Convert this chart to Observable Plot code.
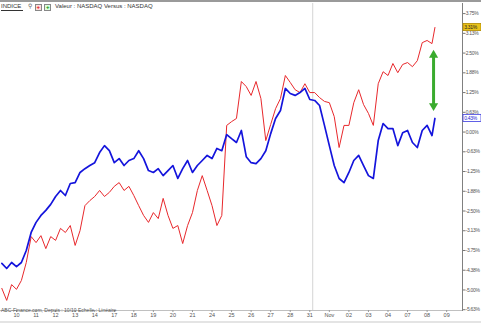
<!DOCTYPE html>
<html><head><meta charset="utf-8">
<script src="https://cdn.jsdelivr.net/npm/d3@7"></script>
<script src="https://cdn.jsdelivr.net/npm/@observablehq/plot@0.6"></script>
<style>
html,body{margin:0;padding:0;background:#fff;width:481px;height:323px;overflow:hidden;font-family:"Liberation Sans",Arial,sans-serif}
#wrap{position:relative;width:481px;height:323px}
#topline{position:absolute;left:0;top:0;width:481px;height:2px;background:#9a9a9a}
#hdr{position:absolute;left:1px;top:3px;height:7px;font-size:6px;line-height:7px;color:#333;white-space:nowrap}
#hdr span{display:inline-block;vertical-align:top}
.ico{width:5px;height:5px;margin-top:1px;border:1px solid #888;font-size:6px;line-height:5px;text-align:center;font-weight:bold}
#cap{position:absolute;left:1px;top:307px;font-size:5px;color:#555;white-space:nowrap}
#bot{position:absolute;left:0;top:321px;width:481px;height:2px;background:#e4e4e4}
#chart svg g[aria-label="y-axis tick label"] text{letter-spacing:-0.35px}
#chart svg g[aria-label="text"] text{letter-spacing:-0.35px}
</style></head>
<body><div id="wrap">
<div id="chart"></div>
<div id="topline"></div>
<div id="hdr"><span style="border-bottom:1px solid #333;padding-right:2px">INDICE</span>
 <span style="width:4px;margin:0 1px 0 3px;color:#666">&#9906;</span>
 <span class="ico" style="color:#d00;background:#fdd">+</span>
 <span class="ico" style="color:#080;background:#dfd;margin-left:1px">+</span>
 <span style="margin-left:2px">Valeur : NASDAQ Versus : NASDAQ</span></div>
<div id="cap">ABC-Finance.com, Depuis : 10/10 Echelle : Lin&eacute;aire</div>
<div id="bot"></div>
</div>
<script>
// time in trading days (0 = first labelled session)
const t = [-0.75,-0.5,-0.25,0,0.25,0.5,0.75,1,1.25,1.5,1.75,2,2.25,2.5,2.75,3,3.25,3.5,3.75,4,4.25,4.5,4.75,5,5.25,5.5,5.75,6,6.25,6.5,6.75,7,7.25,7.5,7.75,8,8.25,8.5,8.75,9,9.25,9.5,9.75,10,10.25,10.5,10.75,11,11.25,11.5,11.75,12,12.25,12.5,12.75,13,13.25,13.5,13.75,14,14.25,14.5,14.75,15,15.25,15.5,15.75,16,16.25,16.5,16.75,17,17.25,17.5,17.75,18,18.25,18.5,18.75,19,19.25,19.5,19.75,20,20.25,20.5,20.75,21,21.25,21.4];
// red series (%)
const red = [-4.95,-5.33,-4.83,-4.98,-4.70,-4.13,-3.31,-3.50,-3.28,-3.69,-3.31,-3.43,-3.05,-3.18,-2.96,-3.59,-3.12,-2.33,-2.17,-2.04,-1.85,-2.04,-1.91,-1.72,-1.60,-1.85,-1.72,-2.01,-2.33,-2.64,-2.86,-2.55,-2.74,-2.10,-2.64,-3.05,-2.96,-3.53,-2.96,-2.55,-1.85,-1.38,-1.85,-2.33,-2.96,-2.64,0.21,0.33,0.43,1.60,1.44,1.16,1.60,1.06,-0.27,0.24,0.74,1.06,1.79,1.57,1.34,1.25,1.53,1.25,1.25,1.09,0.97,0.93,0.49,-0.49,0.21,0.21,0.93,1.34,0.87,0.59,0.21,1.53,1.91,1.79,2.17,1.88,2.14,2.20,2.07,2.26,2.83,2.90,2.80,3.31];
// blue series (%)
const blue = [-4.16,-4.32,-4.13,-4.26,-4.13,-3.75,-3.18,-2.86,-2.64,-2.48,-2.29,-2.04,-1.85,-2.01,-1.63,-1.60,-1.28,-1.16,-1.06,-0.97,-0.65,-0.43,-0.59,-0.97,-0.84,-1.06,-0.90,-0.84,-0.59,-0.84,-1.22,-1.28,-1.16,-1.38,-1.22,-1.06,-1.47,-1.16,-0.90,-1.28,-1.06,-0.90,-0.74,-0.84,-0.52,-0.59,-0.08,-0.21,-0.33,0.05,-0.78,-0.97,-1.00,-0.84,-0.59,-0.05,0.43,0.68,1.38,1.22,1.16,1.25,1.38,1.03,1.00,0.84,0.21,-0.43,-1.06,-1.47,-1.60,-1.28,-0.90,-0.74,-1.06,-1.38,-1.47,-0.27,0.27,0.11,0.11,-0.43,-0.02,0.05,-0.33,-0.49,0.05,0.21,-0.11,0.43];
// x tick labels (sessions)
const xLabels = ["10","11","12","13","14","17","18","19","20","21","24","25","26","27","28","31","Nov","02","03","04","07","08","09"];
// y ticks and labels
const yTicks = [3.75,3.125,2.5,1.875,1.25,0.625,0,-0.625,-1.25,-1.875,-2.5,-3.125,-3.75,-4.375,-5,-5.625];
const yLabels = ["3.75%","3.13%","2.50%","1.88%","1.25%","0.63%","0.00%","-0.63%","-1.25%","-1.88%","-2.50%","-3.13%","-3.75%","-4.38%","-5.00%","-5.63%"];
// month separator and annotation arrow
const monthBreak = [15.15];
const arrowX = [21.33];
const arrowTop = [2.44];
const arrowBottom = [0.83];

const xDomain = [-0.818, 22.81];
const yDomain = [-5.65, 4.07];

const data = t.map((v, i) => ({t: v, red: red[i], blue: blue[i]}));
const yMap = new Map(yTicks.map((d, i) => [d, yLabels[i]]));
const pxPerDay = 462 / (xDomain[1] - xDomain[0]);
const pxPerPct = 307 / (yDomain[1] - yDomain[0]);
const lastRed = red[red.length - 1], lastBlue = blue[blue.length - 1];
const boxW = 18 / pxPerDay, boxH = 3.6 / pxPerPct;
const fmt = v => v.toFixed(2) + "%";
const tags = [
  {v: lastRed, fill: "#e9c21a", stroke: "#b08a00", text: "#222"},
  {v: lastBlue, fill: "#ffffff", stroke: "#3a3ae0", text: "#2020d0"}
];

const chart = Plot.plot({
  width: 481, height: 323,
  marginLeft: 0, marginRight: 19, marginTop: 3, marginBottom: 13,
  style: {fontFamily: "Liberation Sans, Arial, sans-serif", fontSize: "5px", background: "transparent", color: "#444"},
  x: {domain: xDomain},
  y: {domain: yDomain},
  marks: [
    Plot.ruleX(monthBreak, {stroke: "#d4d4d4", strokeWidth: 1}),
    Plot.frame({anchor: "bottom", stroke: "#c0c0c0"}),
    Plot.frame({anchor: "right", stroke: "#808080"}),
    Plot.axisY(yTicks, {anchor: "right", tickFormat: d => yMap.get(d), tickSize: 2.5, tickPadding: 0.8, fontSize: 5, fill: "#555", stroke: "#777", label: null}),
    Plot.axisX(d3.range(xLabels.length), {anchor: "bottom", tickFormat: d => xLabels[d], tickSize: 2, tickPadding: 1, fontSize: 5.5, fill: "#555", stroke: "#999", label: null}),
    Plot.line(data, {x: "t", y: "red", stroke: "#e8282c", strokeWidth: 1}),
    Plot.line(data, {x: "t", y: "blue", stroke: "#1414dc", strokeWidth: 1.7}),
    Plot.link(arrowX, {x1: d => d, x2: d => d, y1: (d, i) => arrowTop[i], y2: (d, i) => arrowBottom[i], stroke: "#3aab2e", strokeWidth: 3}),
    Plot.dot(arrowX, {x: d => d, y: (d, i) => arrowTop[i], symbol: "triangle", r: 3.4, fill: "#3aab2e", stroke: "none"}),
    Plot.dot(arrowX, {x: d => d, y: (d, i) => arrowBottom[i], symbol: "triangle", r: 3.4, fill: "#3aab2e", stroke: "none", rotate: 180}),
    Plot.rect(tags, {x1: xDomain[1] + 1 / pxPerDay, x2: xDomain[1] + 1 / pxPerDay + boxW, y1: d => d.v - boxH, y2: d => d.v + boxH, fill: d => d.fill, stroke: d => d.stroke, strokeWidth: 0.8}),
    Plot.text(tags, {x: xDomain[1] + 1.8 / pxPerDay, y: "v", text: d => fmt(d.v), fill: d => d.text, textAnchor: "start", fontSize: 5})
  ]
});
document.getElementById("chart").appendChild(chart);
</script>
</body></html>
